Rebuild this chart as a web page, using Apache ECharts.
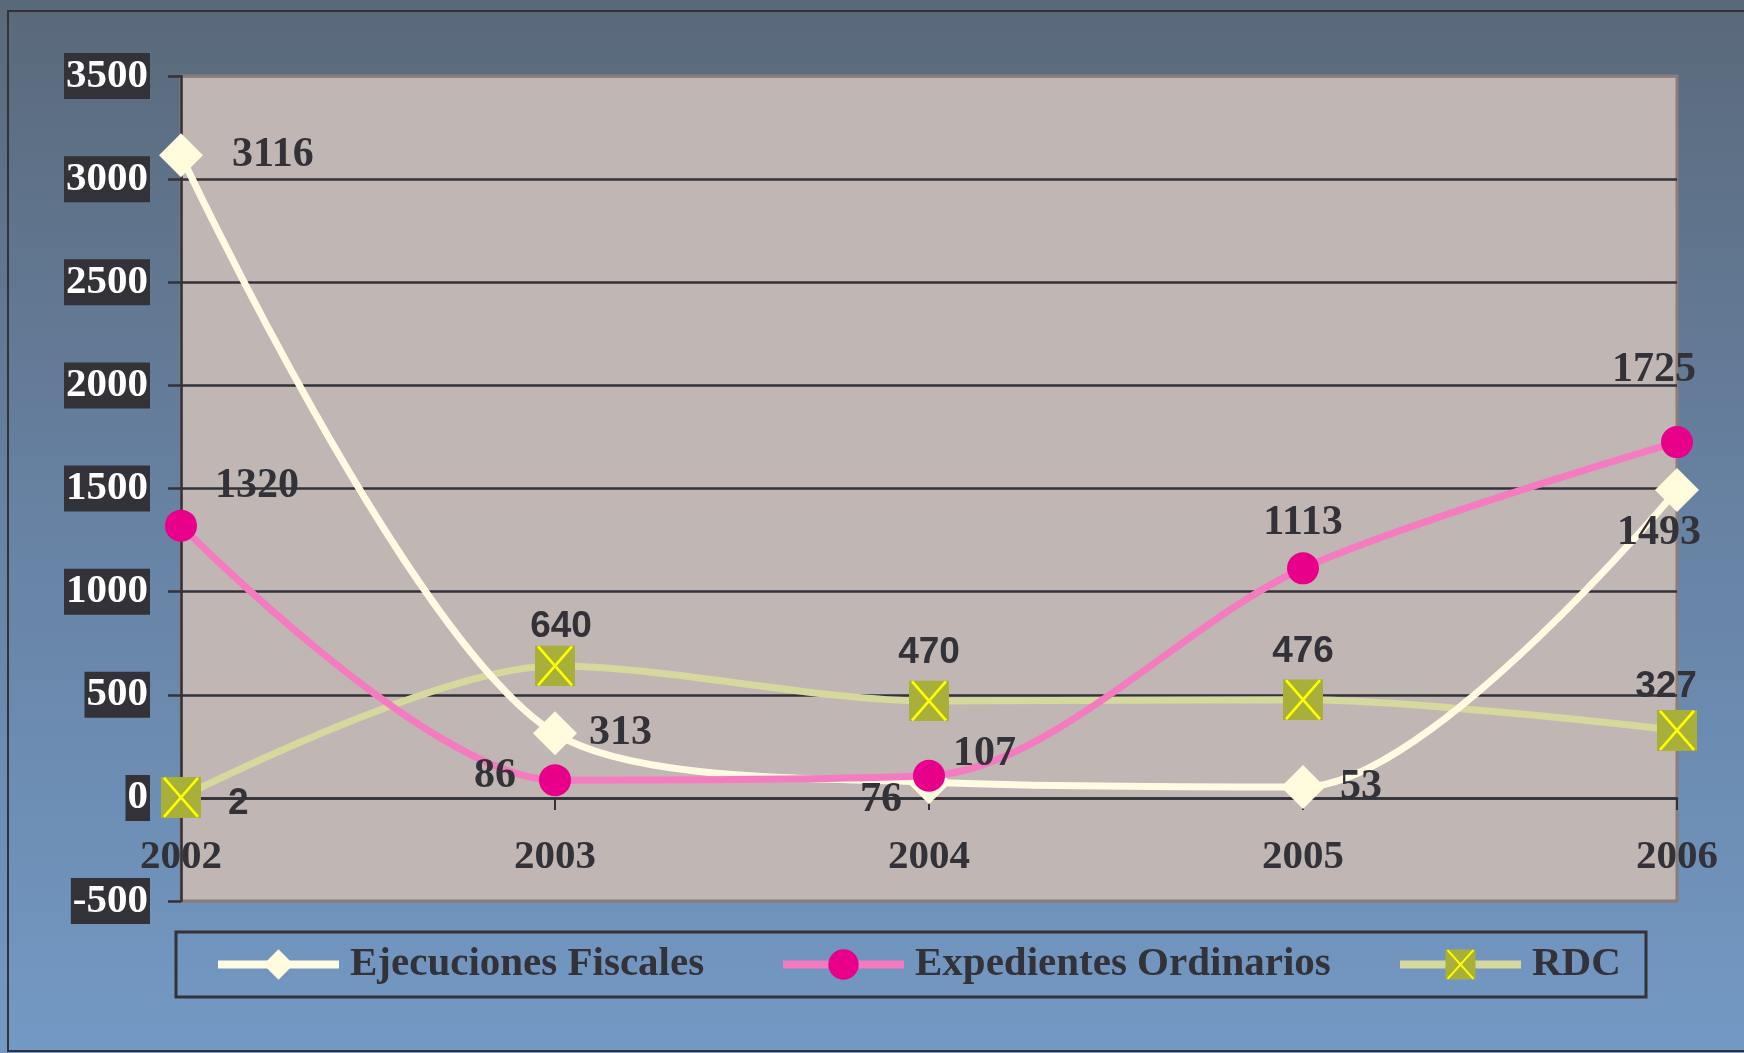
<!DOCTYPE html>
<html>
<head>
<meta charset="utf-8">
<script src="https://cdn.jsdelivr.net/npm/echarts@6/dist/echarts.min.js"></script>
<style>
  html, body { margin: 0; padding: 0; background: #5b6b7c; }
  #chart { width: 1744px; height: 1053px; }
</style>
</head>
<body>
<div id="chart"></div>
<script>
var years = ['2002', '2003', '2004', '2005', '2006'];
var ejecuciones = [3116, 313, 76, 53, 1493];
var expedientes = [1320, 86, 107, 1113, 1725];
var rdc = [2, 640, 470, 476, 327];
var names = ['Ejecuciones Fiscales', 'Expedientes Ordinarios', 'RDC'];

(function() {
  var ink = '#333238';
  var serif = '"Liberation Serif", "DejaVu Serif", serif';
  var sans = '"Liberation Sans", Arial, sans-serif';

  // label placement per point (Excel put them by hand)
  var ejPos = [
    { position: 'right', distance: 29 },
    { position: 'right', distance: 12 },
    { position: 'left', distance: 5, offset: [0, 18] },
    { position: 'right', distance: 15 },
    { position: 'bottom', distance: 0, offset: [-18, 0] }
  ];
  var exPos = [
    { position: 'top', distance: 2, offset: [76, 0] },
    { position: 'left', distance: 23, offset: [0, -4] },
    { position: 'right', distance: 8, offset: [0, -22] },
    { position: 'top', distance: 8 },
    { position: 'top', distance: 35, offset: [-23, 0] }
  ];
  var rdcPos = [
    { position: 'right', distance: 27, offset: [0, 6] },
    { position: 'top', distance: 0, offset: [6, 0] },
    { position: 'top', distance: 9 },
    { position: 'top', distance: 9 },
    { position: 'top', distance: 5, offset: [-11, 0] }
  ];

  function pts(vals, pos) {
    return vals.map(function(v, i) { return { value: v, label: pos[i] }; });
  }

  var xBox = 'image://data:image/svg+xml;charset=utf-8,' + encodeURIComponent(
    '<svg xmlns="http://www.w3.org/2000/svg" width="40" height="41" viewBox="0 0 40 41">' +
    '<rect width="40" height="41" fill="#a9b03a"/>' +
    '<path d="M3,1L37,40M37,1L3,40" stroke="#ffff00" stroke-width="2.6" fill="none"/></svg>');

  var serifLabel = { show: true, color: ink, fontFamily: serif, fontWeight: 'bold', fontSize: 42 };
  var sansLabel = { show: true, color: ink, fontFamily: sans, fontWeight: 'bold', fontSize: 37 };

  function legendAt(x, name) {
    return {
      data: [name], left: x, top: 944, itemWidth: 121, itemHeight: 38, padding: 0,
      lineStyle: { width: 8 },
      textStyle: { color: ink, fontFamily: serif, fontWeight: 'bold', fontSize: 41, padding: [0, 0, 0, 6] }
    };
  }

  var chart = echarts.init(document.getElementById('chart'));
  chart.setOption({
    animation: false,
    graphic: [
      { type: 'rect', z: -100, silent: true, shape: { x: 0, y: 0, width: 1744, height: 1053 },
        style: { fill: new echarts.graphic.LinearGradient(0, 0, 0, 1, [
          { offset: 0, color: '#5a697a' }, { offset: 0.45, color: '#6680a0' }, { offset: 1, color: '#7399c4' }]) } },
      { type: 'rect', z: -90, silent: true, shape: { x: 8, y: 11, width: 1750, height: 1040 },
        style: { fill: 'none', stroke: '#333238', lineWidth: 2 } },
      { type: 'rect', z: -80, silent: true, shape: { x: 176, y: 932, width: 1470, height: 65 },
        style: { fill: 'none', stroke: '#333238', lineWidth: 3 } }
    ],
    legend: [legendAt(214, names[0]), legendAt(779, names[1]), legendAt(1396, names[2])],
    grid: { left: 181, right: 67, top: 76, bottom: 152, show: true,
      backgroundColor: '#c0b6b3', borderColor: '#8a7d7b', borderWidth: 3 },
    xAxis: {
      type: 'category', data: years, boundaryGap: false,
      axisLine: { onZero: true, lineStyle: { color: ink, width: 2.5 } },
      axisTick: { show: true, length: 12, lineStyle: { color: ink, width: 2 } },
      axisLabel: { margin: -64, color: ink, fontFamily: serif, fontWeight: 'bold', fontSize: 41 }
    },
    yAxis: {
      type: 'value', min: -500, max: 3500, interval: 500,
      axisLine: { show: true, lineStyle: { color: ink, width: 2.5 } },
      axisTick: { show: true, length: 13, lineStyle: { color: ink, width: 2.5 } },
      axisLabel: { margin: 31, color: '#ffffff', fontFamily: serif, fontWeight: 'bold', fontSize: 41,
        backgroundColor: '#333238', padding: [1, 2, 0, 2], lineHeight: 45,
        formatter: function(v) { return String(v); } },
      splitLine: { lineStyle: { width: 2.5,
        color: ['#8a7d7b', ink, ink, ink, ink, ink, ink, ink, '#8a7d7b'] } }
    },
    series: [
      { name: names[0], type: 'line', smooth: 0.3, smoothConstraint: false, z: 3,
        data: pts(ejecuciones, ejPos),
        symbol: 'diamond', symbolSize: [44, 44],
        lineStyle: { color: '#fffbe2', width: 7 }, itemStyle: { color: '#fffbdc' },
        label: serifLabel },
      { name: names[1], type: 'line', smooth: 0.3, smoothConstraint: false, z: 4,
        data: pts(expedientes, exPos),
        symbol: 'circle', symbolSize: 32,
        lineStyle: { color: '#f47bc0', width: 7 }, itemStyle: { color: '#e8008a' },
        label: serifLabel },
      { name: names[2], type: 'line', smooth: 0.3, smoothConstraint: false, z: 2,
        data: pts(rdc, rdcPos),
        symbol: xBox, symbolSize: [40, 41],
        lineStyle: { color: '#d6d99e', width: 7 }, itemStyle: { color: '#a9b03a' },
        label: sansLabel }
    ]
  });
  window.addEventListener('resize', function() { chart.resize(); });
})();
</script>
</body>
</html>
